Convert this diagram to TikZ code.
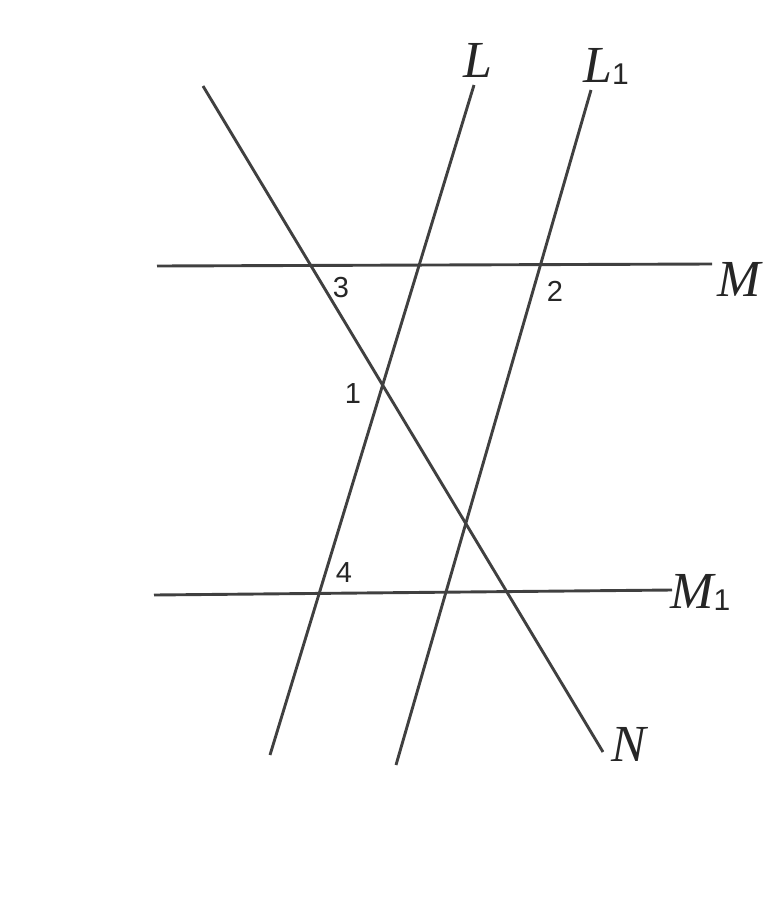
\documentclass[tikz,border=0pt]{standalone}
\usepackage{fontspec}
\setmainfont{Liberation Serif}
\newfontfamily\numfont{Liberation Sans}
\begin{document}
\begin{tikzpicture}[x=1pt,y=-1pt,
  ln/.style={line width=2.9pt,draw=black!75},
  lab/.style={font=\fontsize{52}{52}\selectfont\itshape,inner sep=0pt,text=black!85},
  num/.style={font=\fontsize{29}{29}\selectfont\numfont,inner sep=0pt,text=black!85}]
\useasboundingbox (0,0) rectangle (775,900);
\coordinate (Lb) at (270,755);
\coordinate (Lt) at (474,85);
\coordinate (L1b) at (396,765);
\coordinate (L1t) at (591,90);
\coordinate (Ml) at (157,266);
\coordinate (Mr) at (712,264);
\coordinate (M1l) at (154,595);
\coordinate (M1r) at (672,590);
\coordinate (Nt) at (203,86);
\coordinate (Nb) at (603,752);
\draw[ln] (Lb) -- (Lt);
\draw[ln] (L1b) -- (L1t);
\draw[ln] (Ml) -- (Mr);
\draw[ln] (M1l) -- (M1r);
\draw[ln] (Nt) -- (Nb);
\node[lab] (lL) at (478,60) {L};
\node[lab,anchor=base west] (lL1) at (583,82) {L\raisebox{-2pt}{\upshape\numfont\fontsize{30}{30}\selectfont 1}};
\node[lab] (lM) at (739,279) {M};
\node[lab,anchor=base west] (lM1) at (670,608) {M\raisebox{-2pt}{\upshape\numfont\fontsize{30}{30}\selectfont 1}};
\node[lab] (lN) at (629,744) {N};
\node[num] (n3) at (341,288) {3};
\node[num] (n2) at (555,291) {2};
\node[num] (n1) at (353,394) {1};
\node[num] (n4) at (344,573) {4};
\end{tikzpicture}
\end{document}
